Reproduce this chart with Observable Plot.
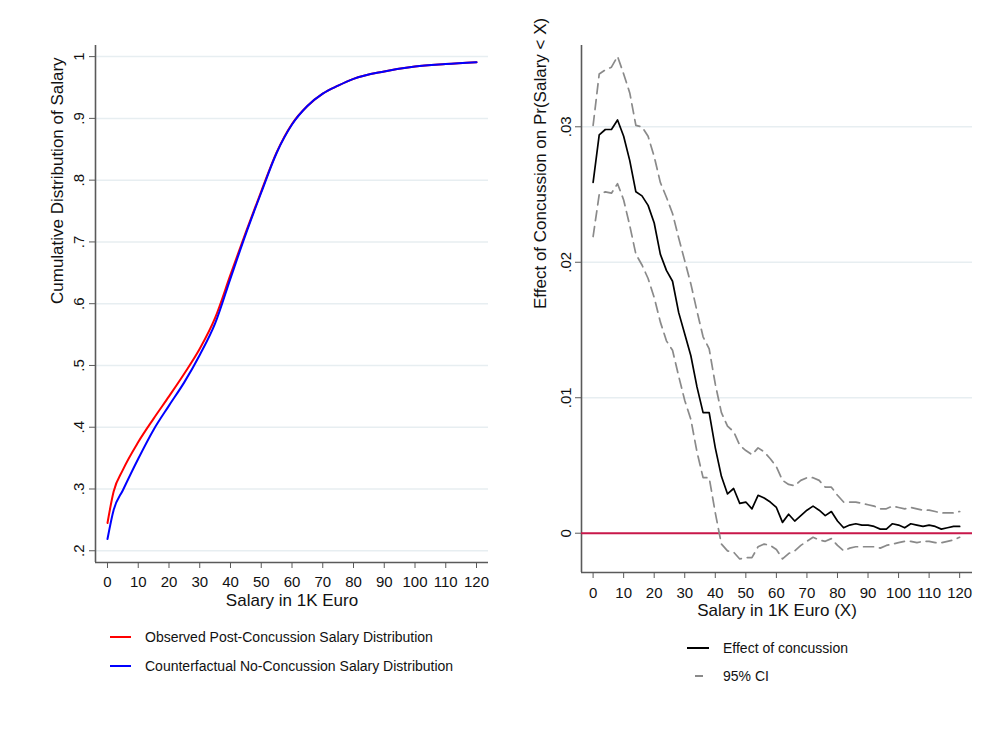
<!DOCTYPE html>
<html><head><meta charset="utf-8">
<script src="https://cdn.jsdelivr.net/npm/d3@7"></script>
<script src="https://cdn.jsdelivr.net/npm/@observablehq/plot@0.6"></script>
<style>
body{margin:0;background:#fff;}
#wrap{position:relative;width:997px;height:730px;background:#fff;font-family:"Liberation Sans",Arial,sans-serif;overflow:hidden;}
.panel{position:absolute;top:0;}
.leg{position:absolute;font-size:14px;color:#111;display:flex;align-items:center;height:20px;white-space:nowrap;}
</style></head><body><div id="wrap"></div>
<script>
// ---------- Left panel data: cumulative distributions ----------
const salaryGrid = [0,2,5,10,15,20,25,30,35,40,45,50,55,60,65,70,75,80,90,100,110,120];
const observedCDF = [0.245,0.296,0.331,0.376,0.414,0.450,0.487,0.527,0.577,0.647,0.716,0.782,0.845,0.891,0.920,0.940,0.953,0.964,0.976,0.984,0.988,0.991];
const counterfactualCDF = [0.219,0.266,0.298,0.349,0.396,0.435,0.473,0.517,0.568,0.641,0.713,0.780,0.844,0.890,0.920,0.940,0.953,0.964,0.976,0.984,0.988,0.991];

// ---------- Right panel data: effect and 95% CI ----------
const effectX = [0,2,4,6,8,10,12,14,16,18,20,22,24,26,28,30,32,34,36,38,40,42,44,46,48,50,52,54,56,58,60,62,64,66,68,70,72,74,76,78,80,82,84,86,88,90,92,94,96,98,100,102,104,106,108,110,112,114,116,118,120];
const effect = [0.0259,0.0294,0.0298,0.0298,0.0305,0.0293,0.0275,0.0252,0.0249,0.0242,
  0.0229,0.0206,0.0194,0.0186,0.0163,0.0147,0.0131,0.0108,0.0089,0.0089,
  0.0063,0.0042,0.0029,0.0033,0.0022,0.0023,0.0018,0.0028,0.0026,0.0023,
  0.0019,0.0008,0.0014,0.0009,0.0013,0.0017,0.0020,0.0017,0.0013,0.0016,
  0.0009,0.0004,0.0006,0.0007,0.0006,0.0006,0.0005,0.0003,0.0003,0.0007,
  0.0006,0.0004,0.0007,0.0006,0.0005,0.0006,0.0005,0.0003,0.0004,0.0005,0.0005];
const ciUpper = [0.0301,0.0339,0.0342,0.0344,0.0352,0.0339,0.0325,0.0301,0.0300,0.0293,
  0.0278,0.0259,0.0248,0.0236,0.0218,0.0201,0.0184,0.0164,0.0145,0.0136,
  0.0110,0.0089,0.0079,0.0075,0.0065,0.0061,0.0058,0.0063,0.0060,0.0055,
  0.0049,0.0039,0.0036,0.0035,0.0039,0.0041,0.0041,0.0039,0.0034,0.0034,
  0.0028,0.0023,0.0023,0.0023,0.0022,0.0021,0.0020,0.0018,0.0018,0.0020,
  0.0019,0.0018,0.0019,0.0018,0.0017,0.0017,0.0016,0.0015,0.0015,0.0015,0.0016];
const ciLower = [0.0219,0.0250,0.0252,0.0251,0.0258,0.0246,0.0227,0.0206,0.0198,0.0188,
  0.0174,0.0156,0.0142,0.0135,0.0116,0.0098,0.0084,0.0060,0.0041,0.0041,
  0.0015,-0.0008,-0.0013,-0.0014,-0.0019,-0.0018,-0.0018,-0.0010,-0.0008,-0.0009,
  -0.0012,-0.0019,-0.0015,-0.0013,-0.0009,-0.0006,-0.0003,-0.0005,-0.0006,-0.0004,
  -0.0009,-0.0013,-0.0011,-0.0010,-0.0010,-0.0010,-0.0010,-0.0011,-0.0009,-0.0008,
  -0.0007,-0.0006,-0.0006,-0.0007,-0.0006,-0.0006,-0.0007,-0.0007,-0.0006,-0.0005,-0.0003];

// ---------- Ticks and labels ----------
const xTicks = [0,10,20,30,40,50,60,70,80,90,100,110,120];
const leftYTicks = [0.2,0.3,0.4,0.5,0.6,0.7,0.8,0.9,1];
const leftYLabels = [".2",".3",".4",".5",".6",".7",".8",".9","1"];
const rightYTicks = [0,0.01,0.02,0.03];
const rightYLabels = ["0",".01",".02",".03"];
const leftXTitle = "Salary in 1K Euro";
const leftYTitle = "Cumulative Distribution of Salary";
const rightXTitle = "Salary in 1K Euro (X)";
const rightYTitle = "Effect of Concussion on Pr(Salary < X)";
const leftLegend = ["Observed Post-Concussion Salary Distribution","Counterfactual No-Concussion Salary Distribution"];
const rightLegend = ["Effect of concussion","95% CI"];

const FONT = "Liberation Sans, Arial, sans-serif";
const GRID = "#e7eef1";
const AXIS = "#5a5a5a";

const obsRows = salaryGrid.map((x,i) => ({x, y: observedCDF[i]}));
const cfRows = salaryGrid.map((x,i) => ({x, y: counterfactualCDF[i]}));
const effRows = effectX.map((x,i) => ({x, e: effect[i], u: ciUpper[i], l: ciLower[i]}));
const lyRows = leftYTicks.map((v,i) => ({v, t: leftYLabels[i]}));
const ryRows = rightYTicks.map((v,i) => ({v, t: rightYLabels[i]}));

const wrap = document.getElementById("wrap");

// ---------- Left panel ----------
const lxDom = [-3.9, 123.9], lyDom = [0.181, 1.018];
const left = Plot.plot({
  width: 500, height: 620,
  marginLeft: 95, marginRight: 12, marginTop: 45, marginBottom: 58,
  x: {domain: lxDom},
  y: {domain: lyDom},
  style: {fontFamily: FONT, background: "transparent", color: "#111"},
  marks: [
    Plot.gridY(leftYTicks, {stroke: GRID, strokeOpacity: 1, strokeWidth: 1.5}),
    Plot.ruleX([lxDom[0]], {stroke: AXIS, strokeWidth: 1.6}),
    Plot.ruleY([lyDom[0]], {stroke: AXIS, strokeWidth: 1.6}),
    Plot.axisX({ticks: xTicks, tickSize: 6, tickPadding: 8, fontSize: 15, label: null, stroke: AXIS, tickFormat: d => String(d)}),
    Plot.axisY({ticks: leftYTicks, tickSize: 6, label: null, stroke: AXIS, tickFormat: () => ""}),
    Plot.text(lyRows, {x: () => lxDom[0], y: "v", text: "t", rotate: -90, dx: -16, fontSize: 15, fill: "#111"}),
    Plot.text([leftXTitle], {frameAnchor: "bottom", dy: 43, fontSize: 17, fill: "#111"}),
    Plot.text([leftYTitle], {frameAnchor: "left", dx: -38, rotate: -90, fontSize: 17, fill: "#111"}),
    Plot.line(obsRows, {x: "x", y: "y", stroke: "#ff0000", strokeWidth: 2, curve: "monotone-x"}),
    Plot.line(cfRows, {x: "x", y: "y", stroke: "#0000ff", strokeWidth: 2, curve: "monotone-x"})
  ]
});
left.classList.add("panel");
left.style.left = "0px";
wrap.appendChild(left);

// ---------- Right panel ----------
const rxDom = [-3.8, 124.2], ryDom = [-0.0029, 0.036];
const right = Plot.plot({
  width: 497, height: 630,
  marginLeft: 81, marginRight: 25, marginTop: 45, marginBottom: 58,
  x: {domain: rxDom},
  y: {domain: ryDom},
  style: {fontFamily: FONT, background: "transparent", color: "#111"},
  marks: [
    Plot.gridY(rightYTicks.slice(1), {stroke: GRID, strokeOpacity: 1, strokeWidth: 1.5}),
    Plot.ruleX([rxDom[0]], {stroke: AXIS, strokeWidth: 1.6}),
    Plot.ruleY([ryDom[0]], {stroke: AXIS, strokeWidth: 1.6}),
    Plot.axisX({ticks: xTicks, tickSize: 6, tickPadding: 9, fontSize: 15, label: null, stroke: AXIS, tickFormat: d => String(d)}),
    Plot.axisY({ticks: rightYTicks, tickSize: 6, label: null, stroke: AXIS, tickFormat: () => ""}),
    Plot.text(ryRows, {x: () => rxDom[0], y: "v", text: "t", rotate: -90, dx: -15, fontSize: 15, fill: "#111"}),
    Plot.text([rightXTitle], {frameAnchor: "bottom", dy: 43, fontSize: 17, fill: "#111"}),
    Plot.text([rightYTitle], {frameAnchor: "left", dx: -41, rotate: -90, fontSize: 17, fill: "#111"}),
    Plot.ruleY([0], {stroke: "#c8174a", strokeWidth: 2}),
    Plot.line(effRows, {x: "x", y: "u", stroke: "#8a8a8a", strokeWidth: 1.7, strokeDasharray: "10,6"}),
    Plot.line(effRows, {x: "x", y: "l", stroke: "#8a8a8a", strokeWidth: 1.7, strokeDasharray: "10,6"}),
    Plot.line(effRows, {x: "x", y: "e", stroke: "#000", strokeWidth: 1.7})
  ]
});
right.classList.add("panel");
right.style.left = "500px";
wrap.appendChild(right);

// ---------- Legends ----------
function legendItem(x, y, color, label, w, swX0, swX1) {
  const d = document.createElement("div");
  d.className = "leg";
  d.style.left = x + "px";
  d.style.top = (y - 10) + "px";
  d.innerHTML = `<svg width="${w}" height="20" style="display:block"><line x1="${swX0}" x2="${swX1}" y1="10" y2="10" stroke="${color}" stroke-width="2"/></svg><span style="margin-left:14px">${label}</span>`;
  wrap.appendChild(d);
}
legendItem(110, 637, "#ff0000", leftLegend[0], 21, 0, 21);
legendItem(110, 666, "#0000ff", leftLegend[1], 21, 0, 21);
legendItem(687, 648, "#000000", rightLegend[0], 22, 0, 22);
legendItem(687, 676, "#8a8a8a", rightLegend[1], 22, 8, 16);
</script></body></html>
